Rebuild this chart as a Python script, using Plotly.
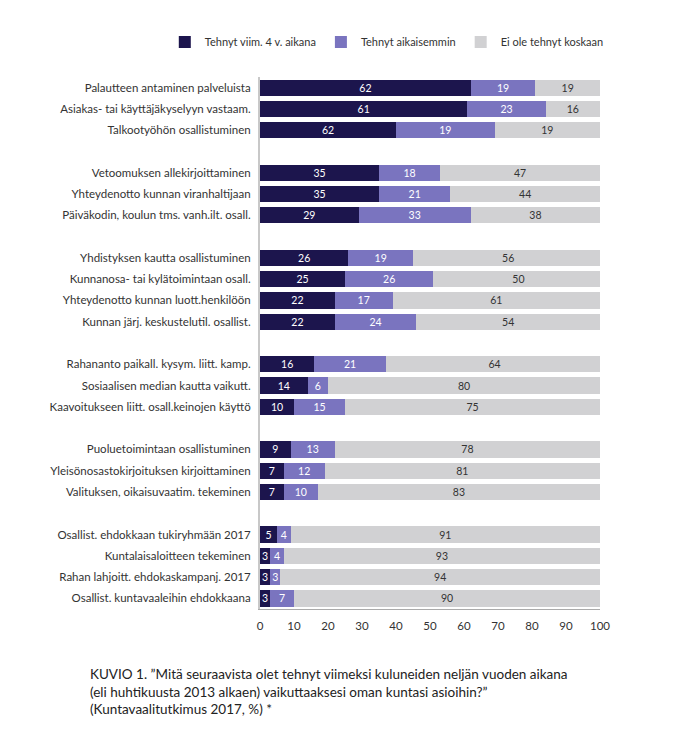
import plotly.graph_objects as go

categories = [
    "Palautteen antaminen palveluista",
    "Asiakas- tai käyttäjäkyselyyn vastaam.",
    "Talkootyöhön osallistuminen",
    "Vetoomuksen allekirjoittaminen",
    "Yhteydenotto kunnan viranhaltijaan",
    "Päiväkodin, koulun tms. vanh.ilt. osall.",
    "Yhdistyksen kautta osallistuminen",
    "Kunnanosa- tai kylätoimintaan osall.",
    "Yhteydenotto kunnan luott.henkilöön",
    "Kunnan järj. keskustelutil. osallist.",
    "Rahananto paikall. kysym. liitt. kamp.",
    "Sosiaalisen median kautta vaikutt.",
    "Kaavoitukseen liitt. osall.keinojen käyttö",
    "Puoluetoimintaan osallistuminen",
    "Yleisönosastokirjoituksen kirjoittaminen",
    "Valituksen, oikaisuvaatim. tekeminen",
    "Osallist. ehdokkaan tukiryhmään 2017",
    "Kuntalaisaloitteen tekeminen",
    "Rahan lahjoitt. ehdokaskampanj. 2017",
    "Osallist. kuntavaaleihin ehdokkaana",
]
group_sizes = [3, 3, 4, 3, 3, 4]

# printed labels
recent_labels = [62, 61, 62, 35, 35, 29, 26, 25, 22, 22, 16, 14, 10, 9, 7, 7, 5, 3, 3, 3]
earlier_labels = [19, 23, 19, 18, 21, 33, 19, 26, 17, 24, 21, 6, 15, 13, 12, 10, 4, 4, 3, 7]
never_labels = [19, 16, 19, 47, 44, 38, 56, 50, 61, 54, 64, 80, 75, 78, 81, 83, 91, 93, 94, 90]

# drawn bar lengths (as seen in the picture)
recent_len = [62, 61, 40, 35, 35, 29, 26, 25, 22, 22, 16, 14, 10, 9, 7, 7, 5, 3, 3, 3]
earlier_len = [19, 23, 29, 18, 21, 33, 19, 26, 17, 24, 21, 6, 15, 13, 12, 10, 4, 4, 3, 7]
never_len = [19, 16, 31, 47, 44, 38, 56, 50, 61, 54, 64, 80, 75, 78, 81, 83, 91, 93, 94, 90]

series_names = ["Tehnyt viim. 4 v. aikana", "Tehnyt aikaisemmin", "Ei ole tehnyt koskaan"]
x_ticks = [0, 10, 20, 30, 40, 50, 60, 70, 80, 90, 100]

caption = ("KUVIO 1. ”Mitä seuraavista olet tehnyt viimeksi kuluneiden neljän vuoden aikana<br>"
           "(eli huhtikuusta 2013 alkaen) vaikuttaaksesi oman kuntasi asioihin?”<br>"
           "(Kuntavaalitutkimus 2017, %) *")

# build category order with blank spacer rows between groups
order = []
i = 0
for g, n in enumerate(group_sizes):
    if g > 0:
        order.append(" " * g)
    order.extend(categories[i:i + n])
    i += n

colors = ["#1c154d", "#7a74bf", "#d1d1d3"]
text_colors = ["white", "white", "#333333"]
lens = [recent_len, earlier_len, never_len]
labs = [recent_labels, earlier_labels, never_labels]

FONT = "Lato"
fig = go.Figure()
for name, c, tc, L, T in zip(series_names, colors, text_colors, lens, labs):
    fig.add_trace(go.Bar(
        y=categories, x=L, name=name, orientation="h",
        marker=dict(color=c, line=dict(width=0)),
        text=[str(t) for t in T], texttemplate="%{text}",
        textposition="inside", insidetextanchor="middle", textangle=0,
        textfont=dict(color=tc, size=10.5, family=FONT),
        constraintext="none", hoverinfo="skip",
    ))

fig.update_layout(
    width=694, height=732,
    barmode="stack", bargap=0.235,
    paper_bgcolor="white", plot_bgcolor="white",
    margin=dict(l=260, r=94, t=77, b=123, autoexpand=False),
    font=dict(family=FONT, size=11, color="#333333"),
    uniformtext=dict(minsize=10.5, mode="show"),
    showlegend=True,
    legend=dict(orientation="h", x=-0.28, xanchor="left", y=1.066, yanchor="middle",
                font=dict(size=11, color="#333333", family=FONT),
                traceorder="normal", itemwidth=30),
    annotations=[dict(
        text=caption, xref="paper", yref="paper", x=-0.506, y=-0.103,
        xanchor="left", yanchor="top", align="left", showarrow=False,
        font=dict(size=13.5, color="#222222", family=FONT),
    )],
)
fig.update_xaxes(range=[0, 100], tickvals=x_ticks, showgrid=False, zeroline=False,
                 showline=True, linecolor="#aaaaaa", linewidth=1, ticks="",
                 ticklabelstandoff=6,
                 tickfont=dict(size=11.5, color="#333333"), fixedrange=True)
fig.update_yaxes(categoryorder="array", categoryarray=order, autorange="reversed",
                 showgrid=False, zeroline=False, showline=True, linecolor="#c8c8c8",
                 linewidth=2, ticks="", ticklabelstandoff=5,
                 tickfont=dict(size=11.5, color="#333333"), fixedrange=True)

fig.write_html("out.html", config={"displayModeBar": False},
               post_script="document.body.style.margin='0';")
